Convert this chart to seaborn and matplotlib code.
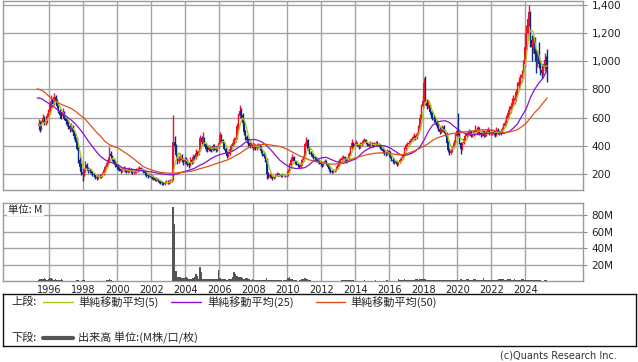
import numpy as np
import pandas as pd
import seaborn as sns
import matplotlib.pyplot as plt
import matplotlib.dates as mdates

# monthly candles, May 1995 - Apr 2025
opens = [
    540, 560, 520, 570, 600, 560, 575, 610,
    640, 690, 730, 700, 745, 720, 680, 650, 620, 610, 640, 600,
    575, 560, 540, 520, 535, 500, 470, 455, 380, 300, 250, 215,
    200, 225, 265, 240, 220, 230, 210, 200, 190, 178, 172, 185,
    182, 190, 205, 225, 250, 275, 300, 345, 325, 300, 280, 262,
    250, 240, 232, 222, 230, 240, 226, 215, 225, 232, 222, 212,
    216, 220, 226, 232, 240, 236, 230, 220, 208, 190, 185, 190,
    180, 175, 168, 160, 165, 150, 146, 140, 134, 130, 140, 146,
    140, 146, 152, 158, 430, 400, 335, 290, 305, 330, 300, 282,
    300, 290, 270, 262, 300, 282, 320, 312, 350, 340, 365, 455,
    430, 445, 410, 380, 370, 392, 380, 372, 400, 382, 372, 392,
    420, 480, 440, 420, 380, 350, 330, 342, 380, 400, 420, 440,
    452, 540, 610, 650, 620, 560, 500, 460, 440, 420, 400, 412,
    385, 400, 382, 392, 400, 382, 362, 340, 330, 300, 200, 180,
    190, 182, 172, 176, 192, 200, 196, 190, 186, 195, 190, 185,
    192, 222, 262, 300, 320, 292, 282, 270, 262, 252, 272, 300,
    330, 410, 440, 380, 350, 340, 330, 320, 310, 300, 290, 280,
    270, 262, 282, 290, 270, 250, 232, 222, 215, 222, 226, 242,
    262, 292, 302, 312, 322, 300, 290, 312, 342, 382, 420, 400,
    412, 422, 402, 392, 410, 422, 432, 442, 422, 410, 400, 420,
    410, 402, 412, 422, 410, 400, 390, 380, 362, 350, 340, 362,
    350, 320, 300, 290, 280, 290, 270, 282, 300, 310, 330, 380,
    402, 410, 422, 432, 442, 462, 472, 452, 482, 522, 600, 680,
    720, 845, 702, 680, 692, 640, 620, 600, 590, 570, 540, 522,
    500, 512, 530, 500, 482, 420, 372, 350, 362, 392, 420, 470,
    502, 490, 420, 380, 420, 450, 470, 482, 490, 502, 470, 482,
    502, 512, 500, 520, 490, 480, 502, 470, 482, 500, 512, 490,
    500, 500, 490, 480, 512, 500, 490, 502, 520, 542, 560, 600,
    632, 652, 680, 702, 720, 742, 782, 822, 852, 882, 900, 982,
    1100, 1200, 1300, 1350, 1150, 1100, 1150, 1050, 1000, 1050, 980, 940,
    920, 950, 1010, 1000,
]
highs = [
    590, 575, 585, 625, 610, 590, 630, 660,
    720, 760, 740, 775, 760, 730, 690, 660, 640, 665, 650, 610,
    600, 575, 555, 560, 545, 515, 490, 465, 395, 320, 275, 240,
    240, 290, 275, 250, 245, 235, 220, 210, 200, 190, 200, 200,
    200, 215, 240, 265, 290, 320, 390, 360, 335, 310, 290, 275,
    262, 255, 245, 245, 255, 248, 235, 240, 248, 240, 232, 230,
    235, 240, 248, 255, 252, 245, 238, 230, 215, 200, 205, 200,
    190, 185, 178, 178, 172, 160, 155, 148, 142, 150, 158, 155,
    158, 162, 170, 615, 470, 410, 345, 325, 350, 340, 315, 320,
    320, 305, 285, 320, 310, 340, 335, 375, 365, 380, 480, 470,
    500, 460, 420, 395, 405, 400, 390, 415, 410, 395, 405, 440,
    495, 485, 450, 430, 390, 360, 355, 395, 415, 445, 460, 470,
    560, 630, 690, 665, 635, 575, 510, 475, 455, 430, 425, 420,
    420, 410, 410, 420, 410, 395, 370, 355, 340, 310, 215, 205,
    200, 190, 185, 200, 212, 210, 205, 198, 205, 202, 195, 200,
    235, 275, 320, 345, 330, 300, 292, 280, 270, 285, 315, 345,
    430, 460, 445, 390, 365, 352, 340, 330, 320, 310, 300, 290,
    280, 295, 305, 298, 275, 258, 240, 230, 232, 238, 255, 275,
    305, 312, 325, 335, 330, 310, 320, 355, 395, 445, 430, 425,
    440, 430, 412, 425, 435, 445, 455, 450, 430, 420, 432, 428,
    420, 425, 435, 432, 420, 410, 400, 392, 375, 360, 375, 370,
    360, 330, 310, 300, 300, 295, 290, 310, 320, 345, 390, 415,
    425, 435, 445, 455, 478, 490, 480, 495, 545, 625, 700, 760,
    880, 895, 730, 715, 700, 650, 640, 620, 610, 585, 560, 540,
    530, 550, 545, 512, 495, 435, 385, 380, 400, 440, 490, 520,
    635, 500, 430, 430, 465, 490, 500, 505, 520, 515, 495, 515,
    545, 530, 540, 530, 505, 515, 510, 495, 515, 530, 520, 515,
    520, 515, 505, 530, 525, 510, 515, 535, 560, 580, 620, 650,
    680, 700, 740, 760, 770, 800, 850, 890, 910, 940, 1010, 1200,
    1260, 1330, 1400, 1360, 1190, 1180, 1170, 1090, 1080, 1140, 1010, 980,
    990, 1060, 1040, 1085,
]
lows = [
    510, 500, 510, 560, 545, 550, 565, 600,
    625, 670, 680, 690, 700, 665, 630, 600, 590, 600, 585, 555,
    540, 520, 500, 505, 480, 450, 430, 370, 280, 230, 195, 150,
    185, 215, 230, 210, 210, 200, 185, 175, 165, 160, 165, 170,
    172, 180, 195, 215, 240, 265, 290, 315, 290, 270, 250, 238,
    228, 222, 210, 212, 222, 215, 205, 208, 215, 210, 200, 200,
    205, 210, 215, 222, 225, 220, 210, 195, 175, 170, 175, 170,
    165, 160, 150, 152, 140, 135, 130, 122, 118, 125, 135, 130,
    132, 138, 145, 155, 360, 320, 270, 275, 290, 285, 265, 270,
    270, 255, 245, 255, 270, 275, 300, 305, 325, 335, 360, 410,
    420, 400, 365, 355, 360, 365, 355, 365, 370, 355, 360, 385,
    410, 430, 410, 370, 340, 310, 320, 335, 370, 390, 410, 425,
    445, 520, 595, 600, 540, 480, 440, 420, 400, 385, 390, 370,
    375, 370, 370, 385, 370, 350, 330, 315, 285, 165, 170, 172,
    172, 160, 165, 170, 185, 188, 182, 178, 180, 182, 178, 180,
    188, 212, 255, 290, 282, 270, 262, 252, 240, 245, 265, 295,
    325, 395, 370, 340, 330, 320, 305, 295, 285, 275, 268, 258,
    250, 255, 275, 260, 240, 222, 210, 205, 208, 215, 222, 238,
    255, 282, 290, 300, 285, 275, 285, 305, 335, 375, 390, 395,
    405, 395, 380, 385, 400, 412, 425, 415, 400, 388, 395, 400,
    392, 395, 405, 400, 390, 380, 368, 350, 335, 325, 335, 338,
    310, 290, 275, 270, 272, 258, 265, 275, 295, 305, 325, 370,
    395, 400, 415, 425, 435, 455, 440, 450, 475, 515, 590, 665,
    710, 690, 660, 665, 630, 600, 580, 570, 555, 525, 505, 485,
    490, 500, 490, 470, 410, 355, 335, 340, 355, 385, 410, 460,
    480, 410, 340, 370, 410, 440, 460, 470, 480, 460, 460, 470,
    490, 485, 490, 480, 465, 470, 460, 462, 470, 490, 480, 478,
    480, 475, 465, 470, 485, 475, 478, 492, 510, 530, 550, 590,
    615, 630, 660, 680, 700, 720, 760, 800, 830, 850, 880, 960,
    1080, 1150, 1250, 1100, 1000, 1060, 1000, 920, 960, 950, 900, 880,
    900, 930, 940, 850,
]
closes = [
    560, 520, 570, 600, 560, 575, 610, 640,
    690, 730, 700, 745, 720, 680, 650, 620, 610, 640, 600, 575,
    560, 540, 520, 535, 500, 470, 455, 380, 300, 250, 215, 200,
    225, 265, 240, 220, 230, 210, 200, 190, 178, 172, 185, 182,
    190, 205, 225, 250, 275, 300, 345, 325, 300, 280, 262, 250,
    240, 232, 222, 230, 240, 226, 215, 225, 232, 222, 212, 216,
    220, 226, 232, 240, 236, 230, 220, 208, 190, 185, 190, 180,
    175, 168, 160, 165, 150, 146, 140, 134, 130, 140, 146, 140,
    146, 152, 158, 430, 400, 335, 290, 305, 330, 300, 282, 300,
    290, 270, 262, 300, 282, 320, 312, 350, 340, 365, 455, 430,
    445, 410, 380, 370, 392, 380, 372, 400, 382, 372, 392, 420,
    480, 440, 420, 380, 350, 330, 342, 380, 400, 420, 440, 452,
    540, 610, 650, 620, 560, 500, 460, 440, 420, 400, 412, 385,
    400, 382, 392, 400, 382, 362, 340, 330, 300, 200, 180, 190,
    182, 172, 176, 192, 200, 196, 190, 186, 195, 190, 185, 192,
    222, 262, 300, 320, 292, 282, 270, 262, 252, 272, 300, 330,
    410, 440, 380, 350, 340, 330, 320, 310, 300, 290, 280, 270,
    262, 282, 290, 270, 250, 232, 222, 215, 222, 226, 242, 262,
    292, 302, 312, 322, 300, 290, 312, 342, 382, 420, 400, 412,
    422, 402, 392, 410, 422, 432, 442, 422, 410, 400, 420, 410,
    402, 412, 422, 410, 400, 390, 380, 362, 350, 340, 362, 350,
    320, 300, 290, 280, 290, 270, 282, 300, 310, 330, 380, 402,
    410, 422, 432, 442, 462, 472, 452, 482, 522, 600, 680, 720,
    845, 702, 680, 692, 640, 620, 600, 590, 570, 540, 522, 500,
    512, 530, 500, 482, 420, 372, 350, 362, 392, 420, 470, 502,
    490, 420, 380, 420, 450, 470, 482, 490, 502, 470, 482, 502,
    512, 500, 520, 490, 480, 502, 470, 482, 500, 512, 490, 500,
    500, 490, 480, 512, 500, 490, 502, 520, 542, 560, 600, 632,
    652, 680, 702, 720, 742, 782, 822, 852, 882, 900, 982, 1100,
    1200, 1300, 1350, 1150, 1100, 1150, 1050, 1000, 1050, 980, 940, 920,
    950, 1010, 1000, 960,
]
# monthly volume, millions
volumes = [
    1.5, 2.5, 3.0, 2.0, 3.5, 3.0, 1.5, 2.0,
    3.5, 3.8, 2.0, 1.2, 2.5, 1.0, 0.8, 1.5, 2.0, 0.8, 0.5, 0.5,
    0.5, 0.4, 0.5, 0.4, 0.3, 0.4, 0.5, 0.8, 1.0, 0.6, 0.5, 1.5,
    1.0, 0.6, 0.4, 0.3, 0.3, 0.2, 0.2, 0.3, 0.2, 0.2, 0.3, 0.2,
    0.2, 0.3, 0.5, 0.5, 1.0, 1.8, 2.2, 1.0, 0.5, 0.4, 0.3, 0.3,
    0.3, 0.2, 0.2, 0.3, 0.2, 0.2, 0.2, 0.2, 0.2, 0.2, 0.2, 0.2,
    0.2, 0.2, 0.2, 0.2, 0.2, 0.2, 0.2, 0.2, 0.3, 0.2, 0.2, 0.2,
    0.2, 0.2, 0.2, 0.2, 0.2, 0.2, 0.2, 0.3, 0.2, 0.2, 0.2, 0.2,
    0.2, 0.2, 0.3, 90.0, 70.0, 12.0, 5.0, 4.5, 4.8, 4.2, 4.0, 3.5,
    4.5, 4.0, 3.0, 2.5, 2.0, 3.5, 5.0, 9.0, 5.5, 3.0, 17.5, 10.5,
    3.0, 2.5, 2.5, 3.0, 2.8, 3.0, 2.5, 3.0, 2.5, 3.0, 3.0, 14.0,
    3.5, 2.5, 2.0, 2.4, 2.2, 1.8, 2.0, 2.4, 3.0, 5.0, 10.4, 8.0,
    6.0, 5.0, 4.5, 4.8, 3.5, 3.0, 3.5, 3.8, 2.5, 2.0, 1.8, 2.0,
    1.6, 1.5, 1.8, 1.6, 1.2, 1.0, 1.2, 1.0, 1.4, 3.2, 1.5, 1.0,
    1.0, 0.8, 1.0, 1.2, 1.5, 1.0, 0.8, 0.7, 0.6, 0.8, 1.0, 1.5,
    3.6, 4.4, 3.0, 2.0, 1.2, 0.8, 0.8, 0.6, 0.8, 1.2, 3.0, 2.0,
    3.2, 2.5, 2.0, 1.0, 0.8, 0.6, 0.5, 0.5, 0.5, 0.4, 0.4, 0.4,
    0.5, 0.5, 0.6, 0.5, 0.4, 0.4, 0.4, 0.3, 0.4, 0.4, 0.5, 0.6,
    0.5, 0.5, 1.0, 1.2, 1.6, 1.0, 0.8, 1.0, 1.6, 1.2, 0.8, 0.6,
    0.6, 0.5, 0.5, 0.6, 0.5, 0.6, 0.7, 0.6, 0.5, 0.5, 0.6, 0.5,
    0.5, 0.6, 1.6, 0.6, 0.5, 0.5, 0.5, 0.6, 0.6, 0.5, 1.6, 0.6,
    0.5, 0.6, 0.5, 0.5, 0.5, 0.6, 2.8, 1.5, 0.8, 1.0, 2.5, 1.8,
    1.2, 1.0, 1.0, 1.0, 1.2, 1.5, 2.8, 2.0, 1.5, 2.0, 2.8, 2.5,
    3.0, 2.0, 1.5, 1.2, 1.0, 1.0, 0.8, 1.0, 0.8, 1.6, 1.0, 0.8,
    0.8, 0.7, 0.8, 0.7, 0.8, 1.0, 1.5, 0.8, 0.7, 1.6, 1.0, 0.8,
    1.5, 1.0, 2.0, 1.0, 0.8, 1.0, 2.5, 2.8, 1.5, 1.2, 1.5, 2.0,
    2.8, 1.8, 1.2, 1.5, 1.0, 1.0, 4.0, 1.5, 1.2, 1.0, 1.5, 1.2,
    1.0, 1.2, 0.8, 1.0, 1.5, 2.8, 2.0, 2.5, 2.8, 1.5, 1.2, 2.0,
    2.8, 2.0, 1.5, 1.8, 2.0, 1.5, 1.2, 1.5, 1.8, 2.0, 2.5, 1.6,
    1.6, 1.5, 1.5, 1.2, 1.0, 1.0, 0.8, 1.0, 0.8, 1.2, 0.8, 0.6,
    0.6, 0.8, 0.8, 0.5,
]

# 25 / 50 month moving averages, read quarterly (Apr 1995 - Apr 2025)
ma25_q = [
    740, 735, 715,
    695, 675, 650, 630,   605, 583, 555, 520,   480, 435, 395, 355,
    322, 300, 285, 276,   265, 245, 238, 234,   230, 226, 222, 218,
    214, 208, 202, 198,   195, 193, 200, 212,   220, 229, 240, 258,
    272, 290, 310, 326,   338, 345, 350, 362,   382, 400, 425, 442,
    445, 438, 425, 400,   370, 335, 300, 276,   255, 243, 238, 240,
    245, 265, 292, 305,   315, 318, 305, 292,   282, 276, 285, 296,
    308, 335, 362, 380,   392, 400, 402, 398,   385, 365, 345, 330,
    335, 345, 362, 390,   440, 500, 545, 568,   575, 578, 565, 540,
    515, 495, 485, 478,   478, 482, 486, 488,   490, 488, 487, 490,
    500, 525, 555, 610,   660, 740, 800, 845,
    880, 940,
]
ma50_q = [
    805, 795, 775,
    745, 725, 705, 690,   678, 665, 645, 620,   598, 565, 530, 495,
    465, 430, 408, 395,   385, 365, 345, 324,   300, 275, 252, 238,
    228, 218, 212, 208,   205, 205, 208, 212,   215, 218, 225, 235,
    243, 252, 262, 272,   282, 292, 302, 318,   335, 352, 375, 390,
    398, 405, 410, 410,   405, 400, 395, 385,   372, 356, 340, 325,
    312, 300, 292, 285,   279, 274, 270, 270,   275, 282, 292, 305,
    315, 324, 332, 340,   345, 348, 350, 348,   345, 340, 337, 338,
    345, 355, 368, 382,   398, 415, 438, 455,   465, 475, 483, 488,
    493, 497, 500, 504,   508, 512, 514, 515,   512, 505, 498, 495,
    498, 505, 515, 535,   560, 595, 635, 665,
    705, 740,
]

year_ticks = list(range(1996, 2025, 2))
price_ticks = [200, 400, 600, 800, 1000, 1200, 1400]
vol_ticks = [20, 40, 60, 80]

sns.set_style('white')
plt.rcParams['font.family'] = ['DejaVu Sans', 'Noto Sans CJK JP']
jp = ['Noto Sans CJK JP', 'DejaVu Sans']

c_up, c_down = '#f0102a', '#0a2a8a'
c_ma5, c_ma25, c_ma50 = '#a8c814', '#8a10d0', '#e0501a'
grid_c = '#a4a4a4'

dates = pd.date_range('1995-05-01', periods=len(closes), freq='MS') + pd.Timedelta(days=14)
df = pd.DataFrame({'x': mdates.date2num(dates), 'open': opens, 'high': highs,
                   'low': lows, 'close': closes, 'vol': volumes})
df['ma5'] = df['close'].rolling(5, min_periods=1).mean()

ma_dates = pd.date_range('1995-04-01', periods=len(ma25_q), freq='3MS') + pd.Timedelta(days=14)
ma = pd.DataFrame({'x': mdates.date2num(ma_dates), 'ma25': ma25_q, 'ma50': ma50_q})

fig = plt.figure(figsize=(6.38, 3.62), dpi=100)
W, H = 638, 362
ax = fig.add_axes([3 / W, 1 - 190 / H, 580 / W, 189 / H])
axv = fig.add_axes([3 / W, 1 - 281 / H, 580 / W, 78 / H])

# candles
o, c = df['open'].values, df['close'].values
up = c >= o
cols = np.where(up, c_up, c_down)
hi = np.maximum(df['high'].values, np.maximum(o, c))
lo = np.minimum(df['low'].values, np.minimum(o, c))
ax.vlines(df['x'], lo, hi, colors=cols, lw=1.0, zorder=3)
ax.bar(df['x'], np.maximum(np.abs(c - o), 5), bottom=np.minimum(o, c),
       width=30, color=cols, lw=0, zorder=3)

sns.lineplot(data=df, x='x', y='ma5', ax=ax, color=c_ma5, lw=0.9, zorder=4)
sns.lineplot(data=ma, x='x', y='ma25', ax=ax, color=c_ma25, lw=0.9, zorder=4)
sns.lineplot(data=ma, x='x', y='ma50', ax=ax, color=c_ma50, lw=0.9, zorder=4)

# volume
axv.bar(df['x'], df['vol'], width=31, color='#555555', lw=0, zorder=3)

xlim = (mdates.date2num(pd.Timestamp('1993-04-12')), mdates.date2num(pd.Timestamp('2027-05-22')))
year_x = [mdates.date2num(pd.Timestamp(f'{y}-01-01')) for y in year_ticks]

for a in (ax, axv):
    a.set_xlim(*xlim)
    a.set_xticks(year_x)
    a.grid(True, color=grid_c, lw=1.0, zorder=0)
    a.set_axisbelow(True)
    a.set_xlabel('')
    a.set_ylabel('')
    a.yaxis.tick_right()
    a.tick_params(axis='y', length=3, width=0.8, color='#888888', pad=3,
                  labelsize=7.5, labelcolor='#222222')
    for s in a.spines.values():
        s.set_color('#9a9a9a')
        s.set_linewidth(1.0)

ax.set_ylim(86, 1428)
ax.set_yticks(price_ticks)
ax.set_yticklabels([f'{v:,}' for v in price_ticks])
ax.tick_params(axis='x', length=0, labelbottom=False)

axv.set_ylim(0, 95)
axv.set_yticks(vol_ticks)
axv.set_yticklabels([f'{v}M' for v in vol_ticks])
axv.set_xticklabels([str(y) for y in year_ticks])
axv.tick_params(axis='x', length=0, pad=3, labelsize=7, labelcolor='#222222')
axv.text(0.009, 0.91, '単位: M', transform=axv.transAxes, fontsize=7.5, family=jp,
         ha='left', va='center', color='#222222', zorder=5,
         bbox=dict(facecolor='white', edgecolor='none', pad=0.8))

# legend box
axl = fig.add_axes([3 / W, 1 - 346 / H, 633 / W, 52 / H])
axl.set_xlim(0, 633)
axl.set_ylim(52, 0)
axl.set_xticks([])
axl.set_yticks([])
for s in axl.spines.values():
    s.set_color('#111111')
    s.set_linewidth(1.0)

ty1, ty2 = 8, 44
fs = 8
axl.text(8, ty1, '上段:', fontsize=fs, family=jp, va='center', ha='left')
axl.text(8, ty2, '下段:', fontsize=fs, family=jp, va='center', ha='left')
legend_items = [(40, 70, 75, c_ma5, '単純移動平均(5)'),
                (168, 198, 204, c_ma25, '単純移動平均(25)'),
                (313, 342, 347, c_ma50, '単純移動平均(50)')]
for x0, x1, xt, col, lab in legend_items:
    axl.plot([x0, x1], [ty1, ty1], color=col, lw=1.0)
    axl.text(xt, ty1, lab, fontsize=fs, family=jp, va='center', ha='left')
axl.plot([40, 70], [ty2, ty2], color='#555555', lw=3.0)
axl.text(75, ty2, '出来高 単位:(M株/口/枚)', fontsize=fs, family=jp, va='center', ha='left')

fig.text(617 / W, 1 - 356 / H, '(c)Quants Research Inc.', fontsize=7, ha='right',
         va='center', color='#333333')

fig.savefig('out.png', dpi=100)
